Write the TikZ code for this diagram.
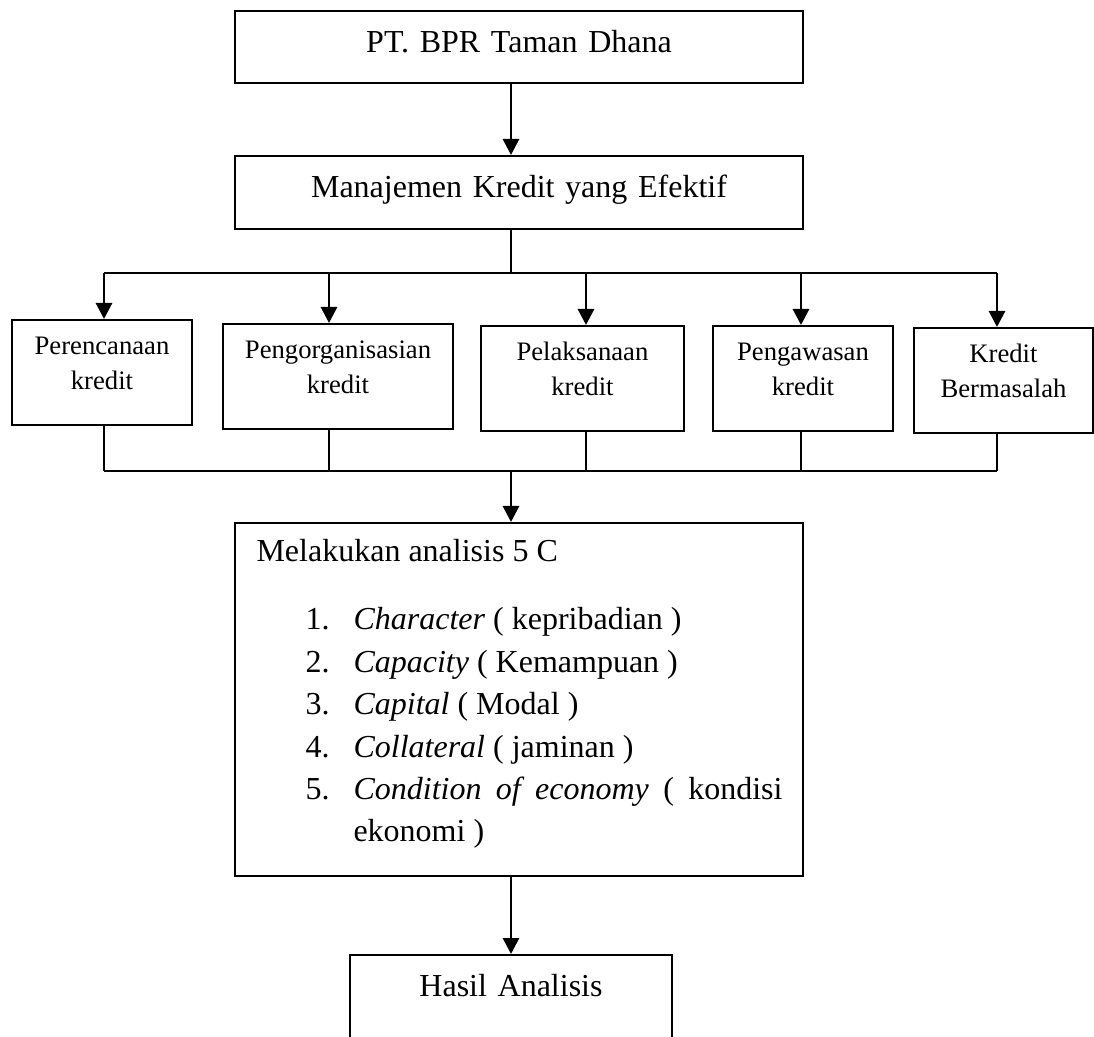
\documentclass[tikz,border=0pt]{standalone}
\usepackage{fontspec}
\setmainfont{Liberation Serif}
\usetikzlibrary{arrows.meta,calc}
\tikzset{
  kotak/.style={draw,line width=.75pt,inner sep=0pt,anchor=north west,align=center,
    font=\fontsize{12}{15.9}\selectfont},
  kotakkecil/.style={kotak,font=\fontsize{10}{12.9}\selectfont,
    text height=13.1pt,text depth=26.25pt},
  teks/.style={anchor=base west,inner sep=0pt,font=\fontsize{12}{15.9}\selectfont},
  panah/.style={line width=1.1pt,-{Triangle[length=6pt,width=6pt]}},
  garis/.style={line width=.75pt}
}
% name, corner, width, text
\newcommand{\subkotak}[4]{%
  \node[kotakkecil,text width=#3] (#1) at (#2) {#4};
}

\begin{document}
\begin{tikzpicture}[x=.375pt,y=-.375pt]
  \clip (0,0) rectangle (1094,1037);
  \coordinate (pusat) at (511,0);
  \coordinate (atas) at (0,273);
  \coordinate (bawah) at (0,471);
  % kotak utama
  \node[kotak,text width=213pt,text height=15.75pt,text depth=11.25pt] (bpr) at (234,10) {PT. BPR Taman Dhana};
  \node[kotak,text width=213pt,text height=15.75pt,text depth=11.6pt] (mk) at (234,155) {Manajemen Kredit yang Efektif};
  \draw[panah] (bpr.south -| pusat) -- (mk.north -| pusat);
  % lima kegiatan
  \subkotak{rencana}{11,319}{67.5pt}{Perencanaan\\kredit}
  \subkotak{organisasi}{222,323}{86.25pt}{Pengorganisasian\\kredit}
  \subkotak{laksana}{480,325}{76.1pt}{Pelaksanaan\\kredit}
  \subkotak{awas}{712,325}{67.5pt}{Pengawasan\\kredit}
  \subkotak{masalah}{913,327}{67.1pt}{Kredit\\Bermasalah}
  \foreach \kt/\xx in {rencana/104,organisasi/329,laksana/586,awas/801,masalah/997}{
    \coordinate (t\kt) at (\xx,273);
    \draw[panah] (t\kt) -- (t\kt |- \kt.north);
    \draw[garis] (\kt.south -| t\kt) -- (t\kt |- bawah);
  }
  \draw[garis] (mk.south -| pusat) -- (pusat |- atas);
  \draw[garis] (trencana) -- (tmasalah);
  \draw[garis] (trencana |- bawah) -- (tmasalah |- bawah);
  % analisis 5 C
  \node[kotak,text width=213pt,text height=0pt,text depth=132.4pt] (analisis) at (234,522) {};
  \draw[panah] (pusat |- bawah) -- (analisis.north -| pusat);
  \node[teks] (judul) at (256,562) {Melakukan analisis 5 C};
  \foreach \isi [count=\i] in {{\textit{Character} ( kepribadian )},{\textit{Capacity} ( Kemampuan )},
      {\textit{Capital} ( Modal )},{\textit{Collateral} ( jaminan )}}{
    \node[teks] (no\i) at (305,{587.5+42.5*\i}) {\i.};
    \node[teks] (isi\i) at (353,{587.5+42.5*\i}) {\isi};
  }
  \node[teks] (no5) at (305,800) {5.};
  \node[teks] (isi5) at (353,800) {\makebox[160.9pt][s]{\textit{Condition of economy} ( kondisi}};
  \node[teks] (isi5b) at (353,842) {ekonomi )};
  % hasil
  \node[kotak,text width=120.75pt,text height=15.4pt,text depth=40pt] (hasil) at (349,954) {Hasil Analisis};
  \draw[panah] (analisis.south -| pusat) -- (hasil.north -| pusat);
\end{tikzpicture}
\end{document}
